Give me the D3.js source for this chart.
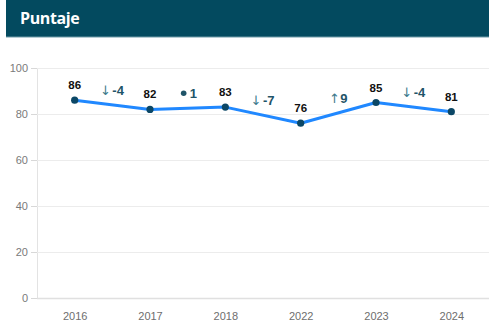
<!DOCTYPE html>
<html>
<head>
<meta charset="utf-8">
<script src="https://cdn.jsdelivr.net/npm/d3@7"></script>
<style>
  html, body { margin: 0; padding: 0; background: #fff; }
  svg { display: block; }
</style>
</head>
<body>
<svg id="chart" width="489" height="326"></svg>
<script>
// Score per year
const years = ["2016", "2017", "2018", "2022", "2023", "2024"];
const scores = [86, 82, 83, 76, 85, 81];
const yTicks = [0, 20, 40, 60, 80, 100];
const title = "Puntaje";

const W = 489, H = 326;
const margin = { top: 68, right: 0, bottom: 28, left: 37 };

const svg = d3.select("#chart");

// Header banner
svg.append("rect")
  .attr("x", 6).attr("y", 0)
  .attr("width", W - 6).attr("height", 37)
  .attr("fill", "#034a5f");
svg.append("line")
  .attr("x1", 6).attr("x2", W).attr("y1", 37).attr("y2", 37)
  .attr("stroke", "#6f9aa8").attr("stroke-width", 1);
svg.append("text")
  .attr("x", 20).attr("y", 24)
  .attr("fill", "#ffffff")
  .attr("font-family", "'Open Sans', sans-serif")
  .attr("font-weight", 700)
  .attr("font-size", 16)
  .attr("letter-spacing", -0.4)
  .text(title);

const x = d3.scalePoint()
  .domain(years)
  .range([margin.left, W - margin.right])
  .padding(0.5);

const y = d3.scaleLinear()
  .domain([0, 100])
  .range([H - margin.bottom, margin.top]);

// Horizontal grid + left ticks
const yAxis = d3.axisLeft(y)
  .tickValues(yTicks)
  .tickSize(6)
  .tickPadding(3);

const gy = svg.append("g")
  .attr("transform", `translate(${margin.left},0)`)
  .call(yAxis);
gy.select(".domain").attr("stroke", "#e3e3e3");
gy.selectAll(".tick line").attr("stroke", "#d8d8d8");
gy.selectAll(".tick text")
  .attr("fill", "#7a7a7a")
  .attr("font-family", "'Liberation Sans', Arial, sans-serif")
  .attr("font-size", 11);

svg.append("g")
  .selectAll("line")
  .data(yTicks)
  .join("line")
  .attr("x1", margin.left).attr("x2", W)
  .attr("y1", d => y(d) + 0.5).attr("y2", d => y(d) + 0.5)
  .attr("stroke", d => d === 0 ? "#e0e0e0" : "#ececec")
  .attr("stroke-width", d => d === 0 ? 1.5 : 1.2);

// X axis labels
const xAxis = d3.axisBottom(x).tickSize(0).tickPadding(14);
const gx = svg.append("g")
  .attr("transform", `translate(0,${H - margin.bottom})`)
  .call(xAxis);
gx.select(".domain").remove();
gx.selectAll(".tick text")
  .attr("fill", "#6e6e6e")
  .attr("font-family", "'Liberation Sans', Arial, sans-serif")
  .attr("font-size", 11);

const pts = years.map((yr, i) => ({ year: yr, value: scores[i] }));

// Score line
svg.append("path")
  .datum(pts)
  .attr("fill", "none")
  .attr("stroke", "#2088ff")
  .attr("stroke-width", 3)
  .attr("stroke-linejoin", "round")
  .attr("d", d3.line().x(d => x(d.year)).y(d => y(d.value)));

svg.append("g")
  .selectAll("circle")
  .data(pts)
  .join("circle")
  .attr("cx", d => x(d.year))
  .attr("cy", d => y(d.value))
  .attr("r", 3.6)
  .attr("fill", "#0b4766");

// Value labels
svg.append("g")
  .selectAll("text")
  .data(pts)
  .join("text")
  .attr("x", d => x(d.year))
  .attr("y", d => y(d.value) - 11)
  .attr("text-anchor", "middle")
  .attr("font-family", "'Liberation Sans', Arial, sans-serif")
  .attr("font-weight", 700)
  .attr("font-size", 11.5)
  .attr("fill", "#111")
  .text(d => d.value);

// Year-over-year change markers between consecutive points
const changes = d3.pairs(pts).map(([a, b]) => ({
  a, b, diff: b.value - a.value
}));

const cg = svg.append("g")
  .selectAll("g")
  .data(changes)
  .join("g")
  .attr("transform", d => {
    const cx = (x(d.a.year) + x(d.b.year)) / 2;
    const cy = y((d.a.value + d.b.value) / 2) - 15;
    return `translate(${cx},${cy})`;
  });

cg.each(function (d) {
  const g = d3.select(this);
  const numText = String(d.diff);
  if (Math.abs(d.diff) <= 1) {
    g.append("circle")
      .attr("cx", -4).attr("cy", 0).attr("r", 2.8)
      .attr("fill", "#1f5468");
    g.append("text")
      .attr("x", 2).attr("y", 5)
      .attr("font-family", "'Liberation Sans', Arial, sans-serif")
      .attr("font-weight", 700)
      .attr("font-size", 13)
      .attr("fill", "#1f5468")
      .text(numText);
  } else {
    g.append("text")
      .attr("x", d.diff < 0 ? -7 : -4).attr("y", 5)
      .attr("text-anchor", "middle")
      .attr("font-family", "'DejaVu Sans', sans-serif")
      .attr("font-size", 13)
      .attr("fill", "#3d7a8c")
      .text(d.diff < 0 ? "↓" : "↑");
    g.append("text")
      .attr("x", d.diff < 0 ? 0 : 2).attr("y", 5)
      .attr("font-family", "'Liberation Sans', Arial, sans-serif")
      .attr("font-weight", 700)
      .attr("font-size", 13)
      .attr("fill", "#1f5468")
      .text(numText);
  }
});
</script>
</body>
</html>
